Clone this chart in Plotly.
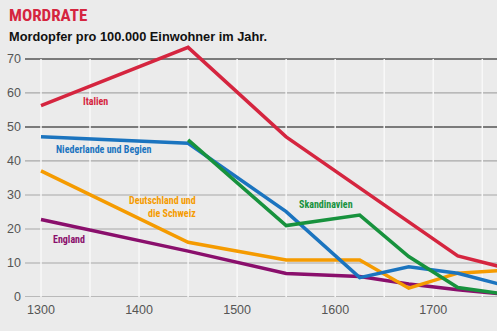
import plotly.graph_objects as go

# Murder victims per 100,000 inhabitants per year
years = [1300, 1450, 1550, 1625, 1675, 1725, 1775]
scand_years = [1450, 1550, 1625, 1675, 1725, 1775]

italien = [56.3, 73.4, 47.1, None, None, 12.1, 8.4]
niederlande = [47.1, 45.2, 25.1, 5.7, 8.9, 7.0, 3.2]
skandinavien = [46.2, 21.0, 24.1, 11.9, 2.8, 0.8]
deutschland = [37.1, 16.1, 10.9, 10.9, 2.6, 7.0, 7.9]
england = [22.8, 13.5, 6.9, 6.0, 3.8, 2.1, 0.8]

y_ticks = [0, 10, 20, 30, 40, 50, 60, 70]
x_ticks = [1300, 1400, 1500, 1600, 1700]

RED = "#d5253f"
BLUE = "#1b74bf"
GREEN = "#17923d"
ORANGE = "#f59b00"
PURPLE = "#8a0f6c"

BG = "#ebebeb"
NARROW = "Liberation Sans Narrow, Roboto Condensed, Arial Narrow, sans-serif"
REGULAR = "Liberation Sans, Arial, sans-serif"

W, H = 497, 331
M_L, M_R, M_T, M_B = 25, 0, 45, 34
PLOT_W = W - M_L - M_R
PLOT_H = H - M_T - M_B

fig = go.Figure()


def add_line(xs, ys, color):
    pts = [(x, y) for x, y in zip(xs, ys) if y is not None]
    fig.add_trace(go.Scatter(
        x=[p[0] for p in pts], y=[p[1] for p in pts], mode="lines",
        line=dict(color=color, width=3.5), hoverinfo="skip", showlegend=False,
        cliponaxis=True,
    ))


add_line(years, england, PURPLE)
add_line(years, deutschland, ORANGE)
add_line(years, niederlande, BLUE)
add_line(scand_years, skandinavien, GREEN)
add_line(years, italien, RED)

# vertical white guides every 50 years
for yr in range(1300, 1800, 50):
    fig.add_shape(type="line", x0=yr, x1=yr, y0=0, y1=70, xref="x", yref="y",
                  line=dict(color="#f8f8f8", width=1.5), layer="below")

# horizontal rules
for v in y_ticks:
    dark = v in (50, 70)
    fig.add_shape(type="line", x0=0, x1=1, xref="paper", y0=v, y1=v, yref="y",
                  line=dict(color="#555555" if dark else "#a8a8a8",
                            width=1.6 if dark or v == 0 else 1.2),
                  layer="below")

# series labels
labels = [
    ("Italien", 1341, 57.6, RED, "left"),
    ("Niederlande und Begien", 1313, 43.5, BLUE, "left"),
    ("Deutschland und<br>die Schweiz", 1388, 26.5, ORANGE, "right"),
    ("Skandinavien", 1561, 27.1, GREEN, "left"),
    ("England", 1310, 16.8, PURPLE, "left"),
]
for text, x, y, color, align in labels:
    fig.add_annotation(x=x, y=y, text="<b>" + text + "</b>", showarrow=False,
                       xanchor="left", yanchor="middle", align=align,
                       font=dict(family=NARROW, size=10, color=color))


def header(text, top_px, size, color, family):
    fig.add_annotation(x=(7 - M_L) / PLOT_W, y=(H - M_B - top_px) / PLOT_H,
                       xref="paper", yref="paper", text=text, showarrow=False,
                       xanchor="left", yanchor="middle",
                       font=dict(family=family, size=size, color=color))


header("<b>MORDRATE</b>", 15, 17, RED, NARROW)
header("<b>Mordopfer pro 100.000 Einwohner im Jahr.</b>", 37, 12.8, "#111111", REGULAR)

tick_font = dict(family=REGULAR, size=12.5, color="#555555")
fig.update_layout(
    width=W, height=H,
    margin=dict(l=M_L, r=M_R, t=M_T, b=M_B),
    paper_bgcolor=BG, plot_bgcolor=BG,
    xaxis=dict(range=[1283.7, 1765], tickvals=x_ticks, showgrid=False,
               zeroline=False, showline=False, ticks="",
               tickfont=tick_font, ticklabelstandoff=3),
    yaxis=dict(range=[0, 74.1], tickvals=y_ticks, showgrid=False,
               zeroline=False, showline=False, ticks="",
               tickfont=tick_font, ticklabelstandoff=3),
)

fig.write_html("out.html")
